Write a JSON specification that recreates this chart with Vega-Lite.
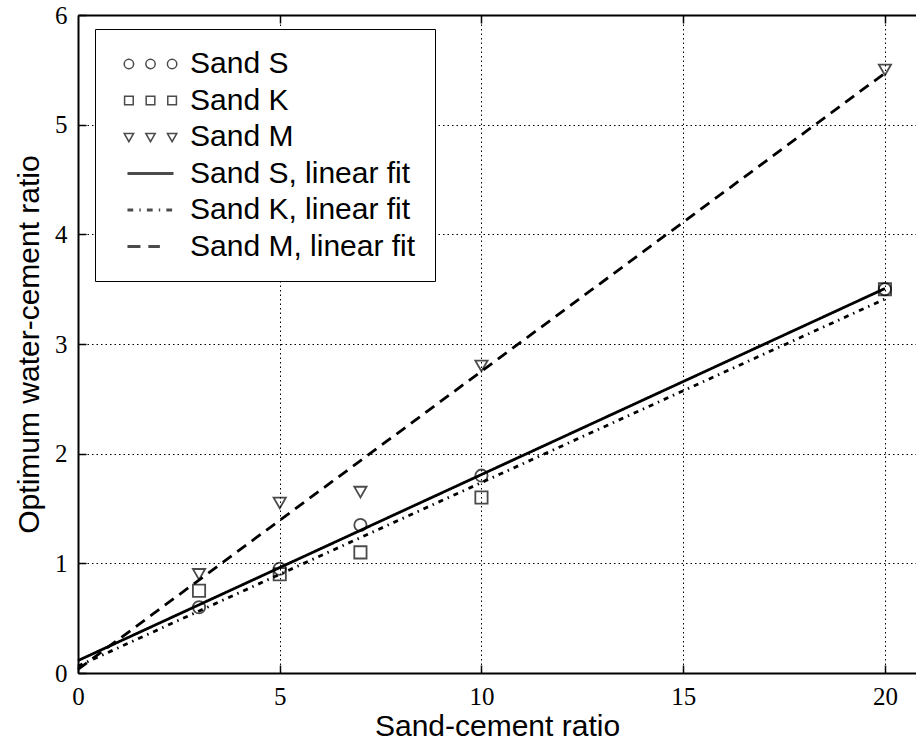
{
  "$schema": "https://vega.github.io/schema/vega-lite/v6.json",
  "width": 838,
  "height": 658,
  "autosize": {"type": "none"},
  "padding": {"left": 78, "top": 15, "right": 0, "bottom": 72},
  "background": "white",
  "config": {
    "view": {"stroke": null},
    "axis": {
      "domainColor": "black",
      "domainWidth": 2,
      "tickColor": "black",
      "tickWidth": 1.5,
      "tickSize": -8,
      "labelFont": "Liberation Serif",
      "labelFontSize": 25,
      "labelColor": "black",
      "labelPadding": 19,
      "labelFlush": false,
      "titleFont": "Liberation Sans",
      "titleFontSize": 30,
      "titleFontWeight": "normal",
      "titleColor": "black",
      "gridColor": "black",
      "gridOpacity": 1,
      "gridDash": [1.5, 3],
      "gridWidth": 1
    },
    "legend": {
      "orient": "none",
      "legendX": 17,
      "legendY": 14,
      "padding": 19,
      "strokeColor": "black",
      "fillColor": "white",
      "cornerRadius": 0,
      "labelFont": "Liberation Sans",
      "labelFontSize": 30,
      "labelColor": "black",
      "labelOffset": 44,
      "labelLimit": 500,
      "rowPadding": 5.5,
      "symbolSize": 900,
      "symbolStrokeWidth": 1.5,
      "symbolStrokeColor": "black",
      "symbolFillColor": "transparent"
    }
  },
  "datasets": {
    "points": [
      {"series": "Sand S", "x": 3, "y": 0.6},
      {"series": "Sand S", "x": 5, "y": 0.95},
      {"series": "Sand S", "x": 7, "y": 1.35},
      {"series": "Sand S", "x": 10, "y": 1.8},
      {"series": "Sand S", "x": 20, "y": 3.5},
      {"series": "Sand K", "x": 3, "y": 0.75},
      {"series": "Sand K", "x": 5, "y": 0.9},
      {"series": "Sand K", "x": 7, "y": 1.1},
      {"series": "Sand K", "x": 10, "y": 1.6},
      {"series": "Sand K", "x": 20, "y": 3.5},
      {"series": "Sand M", "x": 3, "y": 0.9},
      {"series": "Sand M", "x": 5, "y": 1.55},
      {"series": "Sand M", "x": 7, "y": 1.65},
      {"series": "Sand M", "x": 10, "y": 2.8},
      {"series": "Sand M", "x": 20, "y": 5.5}
    ],
    "fits": [
      {"series": "Sand S, linear fit", "x": 0, "y": 0.113},
      {"series": "Sand S, linear fit", "x": 20, "y": 3.506},
      {"series": "Sand K, linear fit", "x": 0, "y": 0.063},
      {"series": "Sand K, linear fit", "x": 20, "y": 3.41},
      {"series": "Sand M, linear fit", "x": 0, "y": 0.033},
      {"series": "Sand M, linear fit", "x": 20, "y": 5.47}
    ]
  },
  "layer": [
    {
      "data": {"name": "fits"},
      "mark": {"type": "line", "color": "black", "strokeWidth": 2.8},
      "encoding": {
        "x": {
          "field": "x", "type": "quantitative",
          "scale": {"domain": [0, 20.77], "nice": false, "zero": false},
          "axis": {"orient": "bottom", "values": [0, 5, 10, 15, 20], "title": "Sand-cement ratio", "grid": true, "titlePadding": 2}
        },
        "y": {
          "field": "y", "type": "quantitative",
          "scale": {"domain": [0, 6], "nice": false},
          "axis": {"values": [0, 1, 2, 3, 4, 5, 6], "format": "d", "title": "Optimum water-cement ratio", "grid": true, "titlePadding": 10}
        },
        "strokeDash": {
          "field": "series", "type": "nominal",
          "scale": {
            "domain": ["Sand S, linear fit", "Sand K, linear fit", "Sand M, linear fit"],
            "range": [[1, 0], [5, 5, 1.5, 5], [11, 7]]
          },
          "legend": null
        }
      }
    },
    {
      "data": {"name": "points"},
      "mark": {"type": "point", "filled": false, "color": "black", "strokeWidth": 1.8, "size": 150},
      "encoding": {
        "x": {
          "field": "x", "type": "quantitative",
          "axis": {"orient": "top", "labels": false, "title": null, "grid": false, "values": [5, 10, 15, 20]}
        },
        "y": {"field": "y", "type": "quantitative"},
        "shape": {
          "field": "series", "type": "nominal",
          "scale": {
            "domain": ["Sand S", "Sand K", "Sand M"],
            "range": ["circle", "square", "triangle-down"]
          },
          "legend": null
        }
      }
    },
    {
      "data": {"name": "points"},
      "transform": [{"filter": "false"}],
      "mark": {"type": "point", "filled": false, "color": "black", "strokeWidth": 1.5},
      "encoding": {
        "shape": {
          "field": "series", "type": "nominal",
          "scale": {
            "domain": ["Sand S", "Sand K", "Sand M", "Sand S, linear fit", "Sand K, linear fit", "Sand M, linear fit"],
            "range": [
              "M0.24,0A0.313,0.313,0,1,1,-0.386,0A0.313,0.313,0,1,1,0.24,0Z M1.68,0A0.313,0.313,0,1,1,1.054,0A0.313,0.313,0,1,1,1.68,0Z M3.12,0A0.313,0.313,0,1,1,2.494,0A0.313,0.313,0,1,1,3.12,0Z",
              "M-0.361,-0.288H0.215V0.288H-0.361Z M1.079,-0.288H1.655V0.288H1.079Z M2.519,-0.288H3.095V0.288H2.519Z",
              "M-0.386,-0.24H0.24L-0.073,0.313Z M1.054,-0.24H1.68L1.367,0.313Z M2.494,-0.24H3.12L2.807,0.313Z",
              "M-0.167,-0.048H2.9 M-0.167,0.048H2.9",
              "M-0.169,-0.048H0.215 M-0.169,0.048H0.215 M0.623,-0.048H0.719 M0.623,0.048H0.719 M1.127,-0.048H1.511 M1.127,0.048H1.511 M1.919,-0.048H2.015 M1.919,0.048H2.015 M2.423,-0.048H2.807 M2.423,0.048H2.807",
              "M-0.169,-0.048H0.695 M-0.169,0.048H0.695 M1.223,-0.048H1.991 M1.223,0.048H1.991"
            ]
          },
          "legend": {"title": null}
        }
      }
    }
  ],
  "resolve": {"axis": {"x": "independent"}, "scale": {"shape": "independent"}}
}
